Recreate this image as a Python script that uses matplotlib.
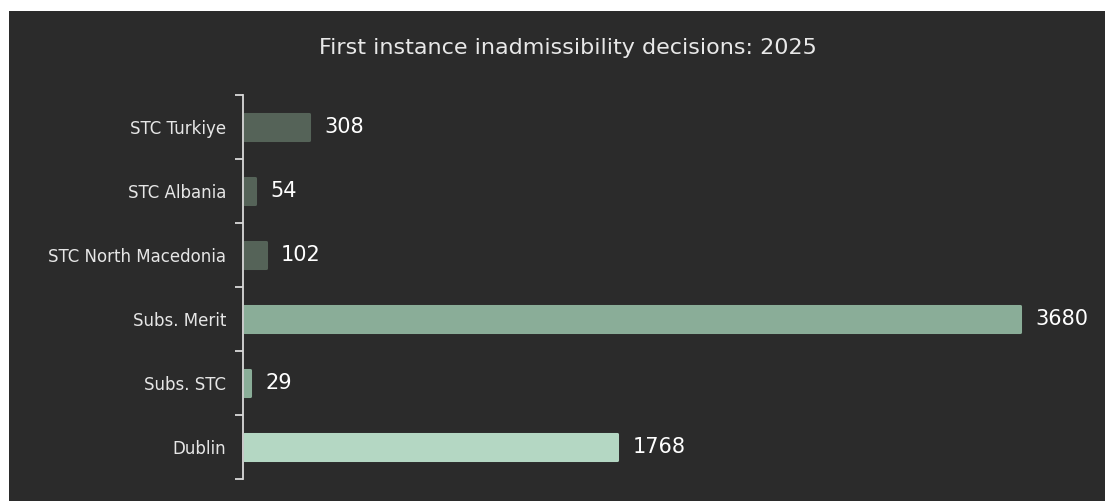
import matplotlib.pyplot as plt
from matplotlib.patches import Rectangle

categories = ["STC Turkiye", "STC Albania", "STC North Macedonia",
              "Subs. Merit", "Subs. STC", "Dublin"]
values = [308, 54, 102, 3680, 29, 1768]
colors = ["#556358", "#556358", "#556358", "#8aad98", "#8aad98", "#b4d7c3"]

plt.rcParams['font.family'] = ['DejaVu Sans']

fig = plt.figure(figsize=(11.05, 5.01), dpi=100)
fig.patch.set_facecolor("white")

# dark panel, leaving the thin white strip at top and left
panel = Rectangle((9 / 1105, 0), 1 - 9 / 1105, 1 - 11 / 501,
                  transform=fig.transFigure, facecolor="#2b2b2b",
                  edgecolor="none", zorder=-10)
fig.patches.append(panel)

ax = fig.add_axes([244 / 1105, 1 - 479 / 501, 844 / 1105, (479 - 95) / 501])
ax.set_facecolor("none")

ypos = list(range(len(categories)))
# thick edge in the bar colour with round joins gives the soft corners
ax.barh(ypos, values, height=0.41, color=colors, edgecolor=colors,
        linewidth=2.2, joinstyle="round")

for i in range(len(values)):
    ax.annotate(str(values[i]), (values[i], i), xytext=(11, 0),
                textcoords="offset points", ha="left", va="center",
                color="white", fontsize=15)

ax.set_xlim(0, 4000)
ax.set_ylim(len(categories) - 0.5, -0.5)
ax.set_yticks(ypos)
ax.set_yticklabels(categories)
ax.set_yticks([i - 0.5 for i in range(len(categories) + 1)], minor=True)
ax.tick_params(axis="y", which="major", length=0, pad=12, labelcolor="#e6e6e6", labelsize=12)
ax.tick_params(axis="y", which="minor", length=6, color="#d9d9d9", width=1.3)
ax.set_xticks([])

for s in ["top", "right", "bottom"]:
    ax.spines[s].set_visible(False)
ax.spines["left"].set_color("#d9d9d9")
ax.spines["left"].set_linewidth(1.3)
ax.spines["left"].set_position(("outward", 1.0))

fig.text(568 / 1105, 1 - 48 / 501, "First instance inadmissibility decisions: 2025",
         ha="center", va="center", color="#e8e8e8", fontsize=16)

fig.savefig("out.png", dpi=100)
